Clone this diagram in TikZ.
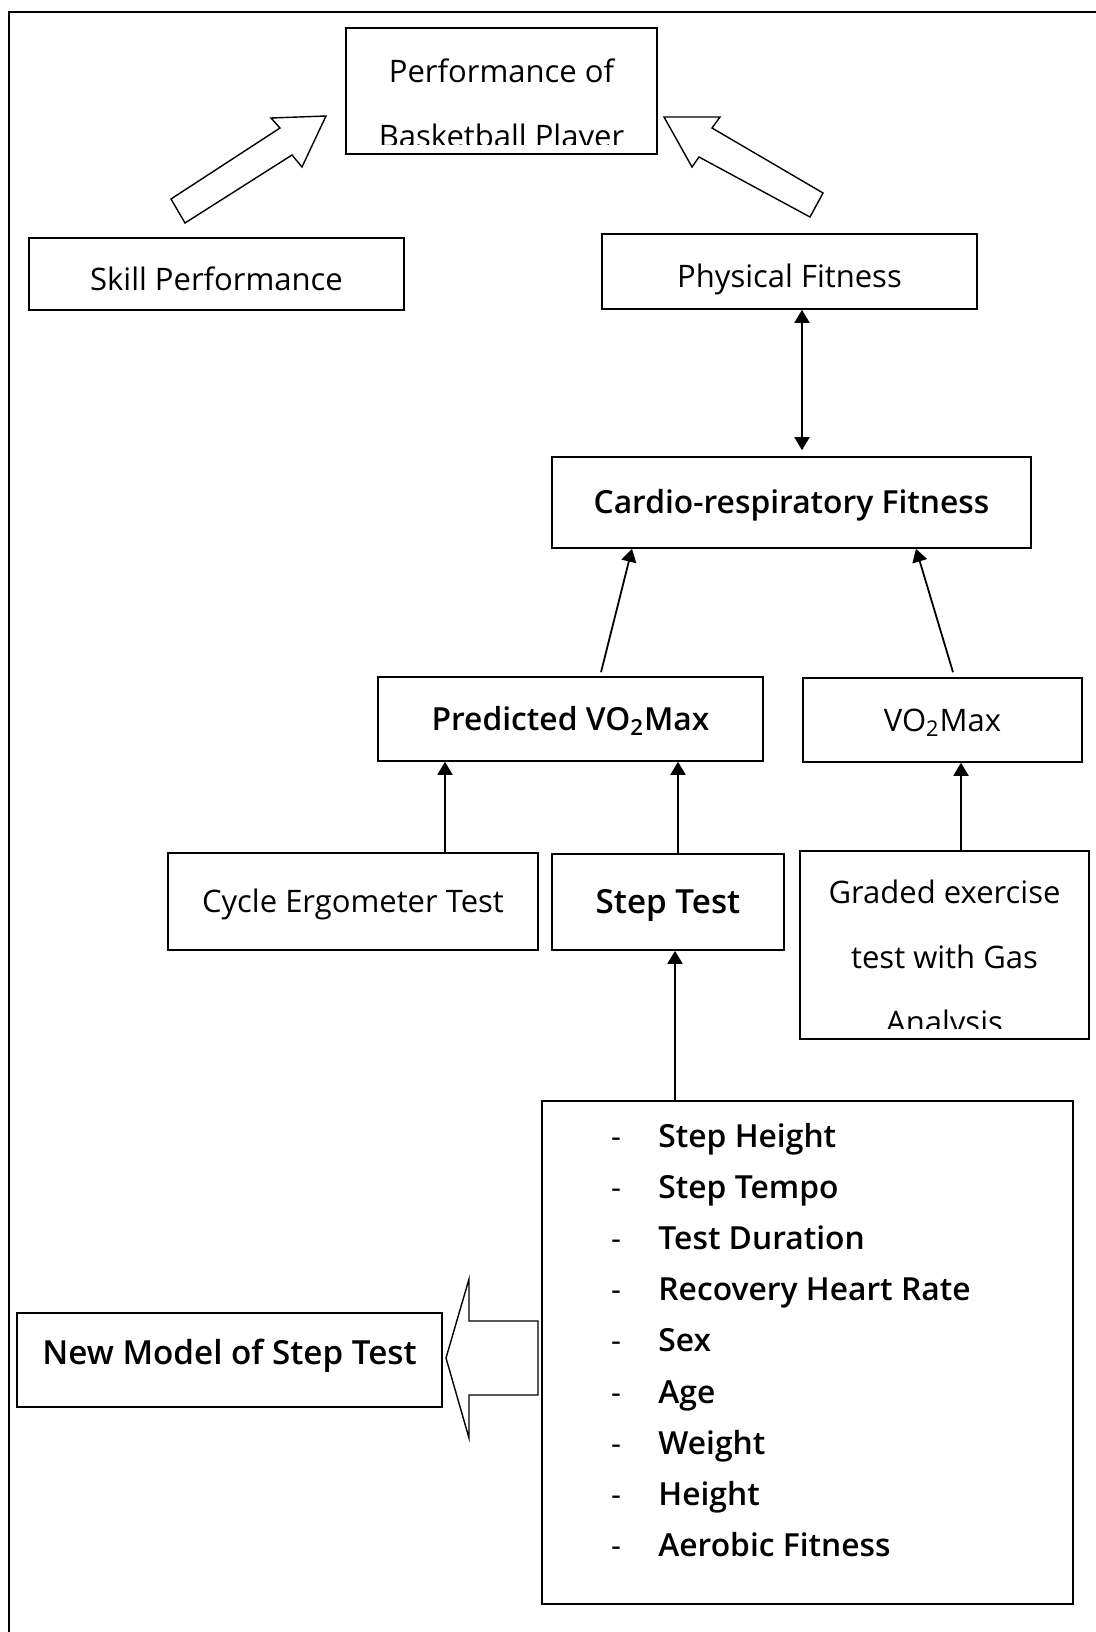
\documentclass[tikz,border=0pt]{standalone}
\usepackage{fontspec}
\setmainfont{Open Sans}
\IfFontExistsTF{Open Sans SemiBold}{\newfontfamily\semifont{Open Sans SemiBold}}{%
  \IfFontExistsTF{Open Sans Semibold}{\newfontfamily\semifont{Open Sans Semibold}}{\newcommand\semifont{\bfseries}}}
\usetikzlibrary{arrows.meta,positioning,calc}

\begin{document}
\begin{tikzpicture}[
  x=0.5pt, y=-0.5pt,
  font=\fontsize{15.5pt}{32pt}\selectfont,
  plainbox/.style={rectangle, draw=black, line width=0.8pt, inner sep=0pt, align=center,
    text height=13pt, text depth=2pt},
  boldbox/.style={plainbox, font=\fontsize{15.9pt}{32pt}\selectfont\semifont},
  bigbold/.style={plainbox, font=\fontsize{16.6pt}{32pt}\selectfont\semifont},
  arrow/.style={-{Triangle[length=6.5pt, width=7.5pt]}, line width=0.9pt},
  twoway/.style={{Triangle[length=6.5pt, width=7.5pt]}-{Triangle[length=6.5pt, width=7.5pt]}, line width=0.9pt},
  hollow/.style={draw=black, fill=white, line width=0.7pt}
]
  \useasboundingbox (0,0) rectangle (1096,1632);
  \draw[line width=1pt] (9,1632) -- (9,12) -- (1096,12);

  \node[plainbox, minimum width=155.5pt, minimum height=63pt] (perf) at (501.5,91) {};
  \node[plainbox, minimum width=187.5pt, minimum height=36pt, text height=18pt] (skill) at (216.5,274) {Skill Performance};
  \node[plainbox, minimum width=187.5pt, minimum height=37.5pt, text height=17.5pt] (phys) at (789.5,271.5) {Physical Fitness};
  \node[boldbox, minimum width=239.5pt, minimum height=45.5pt] (cardio) at (791.5,502.5) {Cardio-respiratory Fitness};
  \node[boldbox, minimum width=192.5pt, minimum height=42pt] (pred) at (570.5,719) {Predicted VO\textsubscript{2}Max};
  \node[plainbox, minimum width=139.5pt, minimum height=42pt] (vomax) at (942.5,720) {VO\textsubscript{2}Max};
  \node[plainbox, minimum width=185pt, minimum height=48.5pt] (cycle) at (353,901.5) {Cycle Ergometer Test};
  \node[bigbold, minimum width=116pt, minimum height=48pt] (steptest) at (668,902) {Step Test};
  \node[plainbox, minimum width=144.5pt, minimum height=94pt] (graded) at (944.5,945) {};
  \node[plainbox, minimum width=265.5pt, minimum height=251.5pt] (factors) at (807.5,1352.5) {};
  \node[bigbold, minimum width=212.5pt, minimum height=47pt, text height=6pt] (newmodel) at (229.5,1360) {New Model of Step Test};

  \begin{scope}
    \clip (perf.north west) rectangle ($(perf.south east)+(0,-10)$);
    \node[anchor=base] (perfA) at (501.5,83) {Performance of};
    \node[anchor=base] (perfB) at (501.5,148) {Basketball Player};
  \end{scope}
  \begin{scope}
    \clip (graded.north west) rectangle ($(graded.south east)+(0,-11)$);
    \node[anchor=base] (gradedA) at (944.5,903) {Graded exercise};
    \node[anchor=base] (gradedB) at (944.5,968) {test with Gas};
    \node[anchor=base] (gradedC) at (944.5,1033) {Analysis};
  \end{scope}

  \foreach \fac [count=\i] in {Step Height, Step Tempo, Test Duration, Recovery Heart Rate, Sex, Age, Weight, Height, Aerobic Fitness} {
    \node[anchor=base] (dash\i) at (616,{1095.8+51.2*\i}) {-};
    \node[anchor=base west, inner sep=0pt, font=\fontsize{15.9pt}{32pt}\selectfont\semifont] (fac\i) at (658,{1095.8+51.2*\i}) {\fac};
  }

  \draw[hollow] (171,199) -- (185,223) -- (292,155) -- (302,167) -- (326,116) -- (271,118) -- (280,128) -- cycle;
  \draw[hollow] (664,117) -- (720,117) -- (712,128) -- (823,193) -- (810,217) -- (699,157) -- (692,167) -- cycle;
  \draw[hollow] (538,1321) -- (469,1321) -- (469,1279) -- (446,1358) -- (469,1438) -- (469,1395) -- (538,1395) -- cycle;

  \coordinate (ph) at ($(phys.south)+(12.5,0)$);
  \coordinate (cy) at ($(cycle.north)+(92,0)$);
  \coordinate (st) at ($(steptest.north)+(10,0)$);
  \coordinate (gr) at ($(graded.north)+(16.5,0)$);
  \coordinate (fa) at ($(factors.north)+(-132.5,0)$);

  \draw[twoway, shorten >=3pt] (ph) -- (ph |- cardio.north);
  \draw[arrow] ($(pred.north)+(30.5,-4)$) -- ($(cardio.south)+(-159.5,0)$);
  \draw[arrow] ($(vomax.north)+(10.5,-5)$) -- ($(cardio.south)+(124.5,0)$);
  \draw[arrow] (cy) -- (cy |- pred.south);
  \draw[arrow] (st) -- (st |- pred.south);
  \draw[arrow] (gr) -- (gr |- vomax.south);
  \draw[arrow] (fa) -- (fa |- steptest.south);
\end{tikzpicture}
\end{document}
